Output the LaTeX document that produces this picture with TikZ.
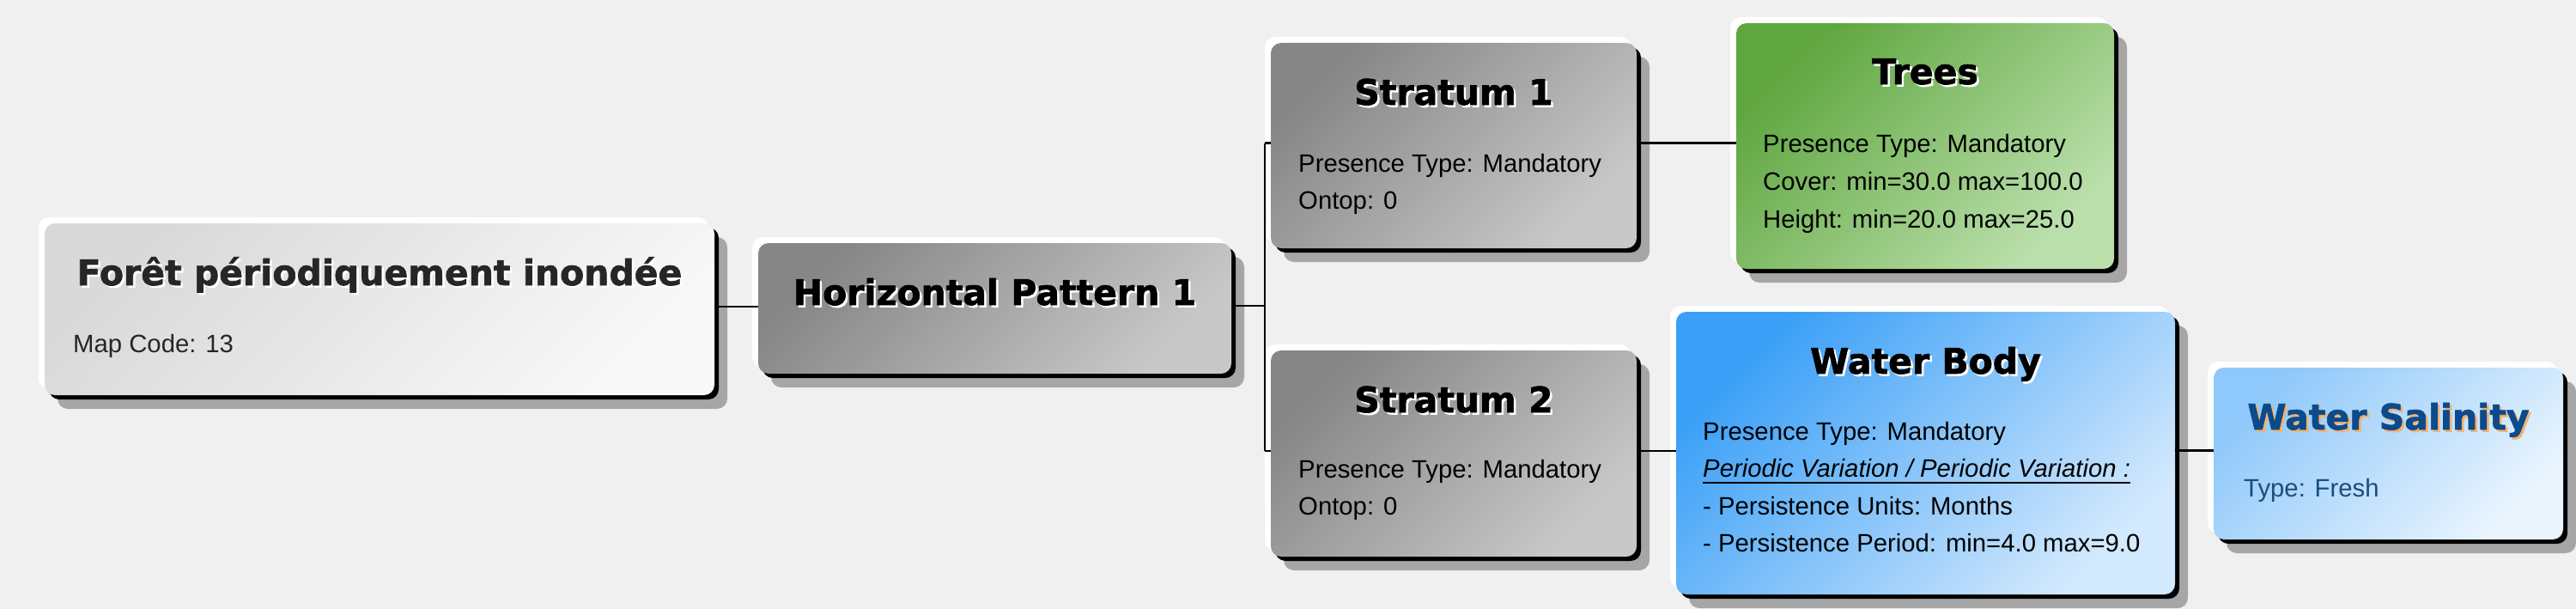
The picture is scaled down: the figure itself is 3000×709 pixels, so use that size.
\documentclass[tikz,border=0pt]{standalone}
\usepackage{fontspec}
\setmainfont{Liberation Sans}
\newfontfamily\titlefont{DejaVu Sans}[BoldFeatures={FakeBold=1.6}]
\definecolor{bg}{HTML}{F0F0F0}
\definecolor{shadowc}{HTML}{A6A6A6}
\definecolor{grayA}{HTML}{868686}
\definecolor{grayB}{HTML}{C8C8C8}
\definecolor{lgA}{HTML}{D9D9D9}
\definecolor{lgB}{HTML}{F8F8F8}
\definecolor{grnA}{HTML}{5FA63F}
\definecolor{grnB}{HTML}{BBE0AC}
\definecolor{bluA}{HTML}{3A9FF7}
\definecolor{bluB}{HTML}{D3E9FD}
\definecolor{salA}{HTML}{8FC8FA}
\definecolor{salB}{HTML}{EAF5FE}
\definecolor{navy}{HTML}{0B4A8B}
\definecolor{tan}{HTML}{F2B26E}
\definecolor{navytxt}{HTML}{1B4C7E}
\definecolor{dark}{HTML}{262626}
\newcommand\mkTitle[6]{%
  \node[ttl, text=#5] (#1s) at (#2+2.5,#3+2.5) {#6};
  \node[ttl, text=#4] (#1) at (#2,#3) {#6};}
\begin{document}
\begin{tikzpicture}[x=1pt,y=-1pt,
  box/.style={rectangle, rounded corners=12pt, inner sep=0pt, draw=none,
    preaction={fill=shadowc, transform canvas={xshift=15pt,yshift=-16pt}},
    preaction={fill=white, transform canvas={xshift=-7pt,yshift=7pt}},
    preaction={fill=black, transform canvas={xshift=5pt,yshift=-5pt}}},
  graybox/.style={box, top color=grayA, bottom color=grayB, shading angle=45},
  lightbox/.style={box, top color=lgA, bottom color=lgB, shading angle=45},
  greenbox/.style={box, top color=grnA, bottom color=grnB, shading angle=45},
  bluebox/.style={box, top color=bluA, bottom color=bluB, shading angle=45},
  salbox/.style={box, top color=salA, bottom color=salB, shading angle=45},
  ttl/.style={inner sep=0pt, anchor=base, font=\fontsize{41}{48}\selectfont\titlefont\bfseries},
  bdy/.style={inner sep=0pt, anchor=base west, font=\fontsize{29.3}{35}\selectfont},
  conn/.style={draw=black, line width=2.4pt}]
\useasboundingbox (0,0) rectangle (3000,709);
\fill[bg] (0,0) rectangle (3000,709);

% boxes
\node[lightbox, minimum width=780pt, minimum height=200pt] (f) at (442,360) {};
\node[graybox, minimum width=551pt, minimum height=152pt] (hp) at (1158.5,359) {};
\node[graybox, minimum width=426pt, minimum height=239pt] (s1) at (1693,169.5) {};
\node[graybox, minimum width=426pt, minimum height=240pt] (s2) at (1693,528) {};
\node[greenbox, minimum width=440pt, minimum height=286pt] (tr) at (2242,170) {};
\node[bluebox, minimum width=581pt, minimum height=329pt] (wb) at (2242.5,527.5) {};
\node[salbox, minimum width=407pt, minimum height=200pt] (sal) at (2781.5,528) {};

% titles
\mkTitle{ft}{442}{332}{dark}{white}{Forêt périodiquement inondée}
\mkTitle{hpt}{1158.5}{355}{black}{white}{Horizontal Pattern 1}
\mkTitle{s1t}{1693}{122}{black}{white}{Stratum 1}
\mkTitle{s2t}{1693}{480}{black}{white}{Stratum 2}
\mkTitle{trt}{2242}{98}{black}{white}{Trees}
\mkTitle{wbt}{2242.5}{435}{black}{white}{Water Body}
\mkTitle{salt}{2781.5}{500}{navy}{tan}{Water Salinity}

% body texts
\node[bdy, text=dark] (fl1) at (85,410) {Map Code: 13};
\node[bdy] (s1l1) at (1512,200) {Presence Type: Mandatory};
\node[bdy] (s1l2) at (1512,243.5) {Ontop: 0};
\node[bdy] (s2l1) at (1512,556) {Presence Type: Mandatory};
\node[bdy] (s2l2) at (1512,599.5) {Ontop: 0};
\node[bdy] (trl1) at (2053,177) {Presence Type: Mandatory};
\node[bdy] (trl2) at (2053,221) {Cover: min=30.0 max=100.0};
\node[bdy] (trl3) at (2053,265) {Height: min=20.0 max=25.0};
\node[bdy] (wbl1) at (1983,512) {Presence Type: Mandatory};
\node[bdy] (wbl2) at (1983,555.5) {\itshape Periodic Variation / Periodic Variation :};
\node[bdy] (wbl3) at (1983,599) {- Persistence Units: Months};
\node[bdy] (wbl4) at (1983,642.5) {- Persistence Period: min=4.0 max=9.0};
\node[bdy, text=navytxt] (sall1) at (2613,578) {Type: Fresh};
\draw[line width=2.2pt] ([yshift=-6.5pt]wbl2.base west) -- ([yshift=-6.5pt]wbl2.base east);

% connectors
\coordinate (bus) at (1473,0);
\coordinate (cf) at ([yshift=3pt]f.east);
\coordinate (chp) at ([yshift=3pt]hp.east);
\coordinate (cs1) at ([yshift=3pt]s1.west);
\coordinate (cs2) at ([yshift=3pt]s2.west);
\coordinate (cs1e) at ([yshift=3pt]s1.east);
\coordinate (cs2e) at ([yshift=3pt]s2.east);
\coordinate (cwbe) at ([yshift=3pt]wb.east);
\draw[conn] (cf) -- (cf -| hp.west);
\draw[conn] (chp) -- (chp -| bus);
\draw[conn] (cs1 -| bus) -- (cs2 -| bus);
\draw[conn] (cs1 -| bus) -- (cs1);
\draw[conn] (cs2 -| bus) -- (cs2);
\draw[conn] (cs1e) -- (cs1e -| tr.west);
\draw[conn] (cs2e) -- (cs2e -| wb.west);
\draw[conn] (cwbe) -- (cwbe -| sal.west);
\end{tikzpicture}
\end{document}
